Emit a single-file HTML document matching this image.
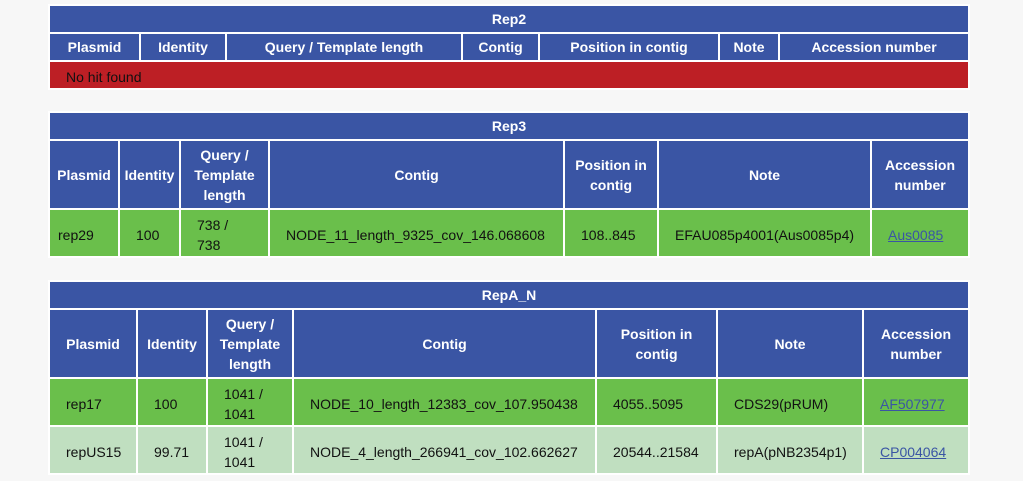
<!DOCTYPE html>
<html><head><style>
body{margin:0;background:#f7f7f7;font-family:"Liberation Sans",Arial,sans-serif;font-size:14px;}
table{position:absolute;left:48px;width:922px;table-layout:fixed;border-collapse:separate;border-spacing:2px;background:#fff;}
td,th{padding:0;line-height:20px;}
th{background:#3a55a4;color:#fff;font-weight:bold;text-align:center;}
td{padding-left:16px;padding-top:4px;text-align:left;color:#111;}
.r{background:#bd1f25;padding-top:3px;}
.g{background:#6abf4b;}
.l{background:#c0dfc0;}
a{color:#3a55a4;text-decoration:underline;}
</style></head><body>
<table style="top:4px">
<colgroup><col style="width:89px"><col style="width:84px"><col style="width:234px"><col style="width:75px"><col style="width:178px"><col style="width:58px"><col style="width:188px"></colgroup>
<tr style="height:26px"><th colspan="7">Rep2</th></tr>
<tr style="height:26px"><th>Plasmid</th><th>Identity</th><th>Query / Template length</th><th>Contig</th><th>Position in contig</th><th>Note</th><th>Accession number</th></tr>
<tr style="height:26px"><td colspan="7" class="r">No hit found</td></tr>
</table>
<table style="top:111px">
<colgroup><col style="width:68px"><col style="width:59px"><col style="width:87px"><col style="width:293px"><col style="width:92px"><col style="width:211px"><col style="width:96px"></colgroup>
<tr style="height:26px"><th colspan="7">Rep3</th></tr>
<tr style="height:67px"><th>Plasmid</th><th>Identity</th><th>Query /<br>Template<br>length</th><th>Contig</th><th>Position in<br>contig</th><th>Note</th><th>Accession<br>number</th></tr>
<tr style="height:46px" class="g"><td style="padding-left:8px">rep29</td><td>100</td><td>738 /<br>738</td><td>NODE_11_length_9325_cov_146.068608</td><td>108..845</td><td>EFAU085p4001(Aus0085p4)</td><td><a>Aus0085</a></td></tr>
</table>
<table style="top:280px">
<colgroup><col style="width:86px"><col style="width:68px"><col style="width:84px"><col style="width:301px"><col style="width:119px"><col style="width:144px"><col style="width:104px"></colgroup>
<tr style="height:26px"><th colspan="7">RepA_N</th></tr>
<tr style="height:67px"><th>Plasmid</th><th>Identity</th><th>Query /<br>Template<br>length</th><th>Contig</th><th>Position in<br>contig</th><th>Note</th><th>Accession<br>number</th></tr>
<tr style="height:46px" class="g"><td>rep17</td><td>100</td><td>1041 /<br>1041</td><td>NODE_10_length_12383_cov_107.950438</td><td>4055..5095</td><td>CDS29(pRUM)</td><td><a>AF507977</a></td></tr>
<tr style="height:46px" class="l"><td>repUS15</td><td>99.71</td><td>1041 /<br>1041</td><td>NODE_4_length_266941_cov_102.662627</td><td>20544..21584</td><td>repA(pNB2354p1)</td><td><a>CP004064</a></td></tr>
</table>
</body></html>
